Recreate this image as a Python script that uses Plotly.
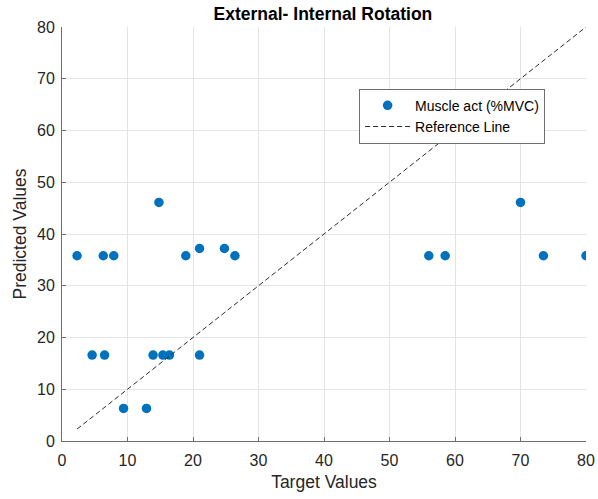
import plotly.graph_objects as go

target = [2.3, 6.3, 7.9, 14.8, 18.9, 21.0, 24.8, 26.4, 4.6, 6.5, 13.9, 15.4, 16.4, 21.0, 9.4, 12.9,
          70.0, 56.0, 58.5, 73.5, 80.0]
predicted = [35.8, 35.8, 35.8, 46.1, 35.8, 37.2, 37.2, 35.8, 16.6, 16.6, 16.6, 16.6, 16.6, 16.6, 6.3, 6.3,
             46.1, 35.8, 35.8, 35.8, 35.8]

ref_x = [min(target), max(target)]
ref_y = ref_x

tick_vals = [0, 10, 20, 30, 40, 50, 60, 70, 80]

font = "Liberation Sans, Arial, sans-serif"
fig = go.Figure()
fig.add_trace(go.Scatter(x=target, y=predicted, mode="markers", name="Muscle act (%MVC)",
                         marker=dict(color="#0072BD", size=9.5)))
fig.add_trace(go.Scatter(x=ref_x, y=ref_y, mode="lines", name="Reference Line",
                         line=dict(color="#2a2a2a", width=1, dash="5px,3px")))

axis_common = dict(range=[0, 80], tickvals=tick_vals, showgrid=True, gridcolor="#e4e4e4", gridwidth=1,
                   showline=True, linecolor="#6e6e6e", linewidth=1, ticks="inside", ticklen=4,
                   tickcolor="#6e6e6e", zeroline=False, automargin=False,
                   tickfont=dict(family=font, size=16, color="#262626"))

fig.update_layout(
    width=598, height=499,
    margin=dict(l=62, r=12, t=27, b=58),
    plot_bgcolor="white", paper_bgcolor="white",
    title=dict(text="<b>External- Internal Rotation</b>", x=0.54, xanchor="center", y=0.972, yanchor="middle",
               font=dict(family=font, size=17.5, color="black")),
    xaxis=dict(title=dict(text="Target Values", font=dict(family=font, size=17.5, color="#262626"), standoff=7),
               ticklabelstandoff=5, **axis_common),
    yaxis=dict(title=dict(text="Predicted Values", font=dict(family=font, size=17.5, color="#262626"), standoff=5),
               ticklabelstandoff=3, **axis_common),
    legend=dict(x=0.567, y=0.851, xanchor="left", yanchor="top", bordercolor="#6e6e6e", borderwidth=1,
                bgcolor="white", font=dict(family=font, size=14, color="black"),
                tracegroupgap=0, itemwidth=45),
    showlegend=True,
)
fig.write_html("out.html")
